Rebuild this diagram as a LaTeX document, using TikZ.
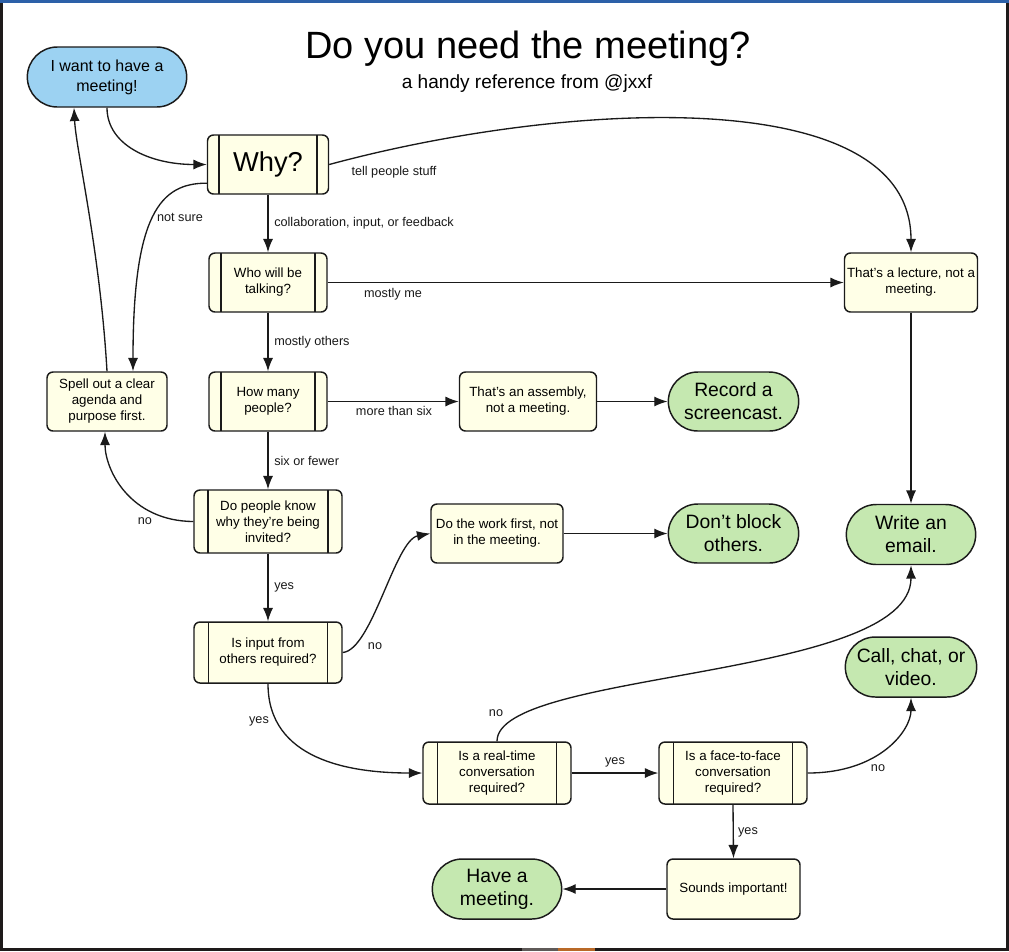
\documentclass[tikz,border=0pt]{standalone}
\usepackage{fontspec}
\setmainfont{Liberation Sans}
\usetikzlibrary{arrows.meta,shapes.misc}
\definecolor{cream}{RGB}{255,255,231}
\definecolor{pgreen}{RGB}{197,232,176}
\definecolor{pblue}{RGB}{156,210,242}
\definecolor{ln}{RGB}{26,26,26}
\definecolor{topblue}{RGB}{44,96,168}
\definecolor{framec}{RGB}{30,26,26}
\definecolor{artgray}{RGB}{95,90,88}
\definecolor{artorange}{RGB}{185,105,40}
\tikzset{
  box/.style={draw=ln, line width=1.1pt, fill=cream, rounded corners=4.5pt,
    align=center, inner sep=1pt, font=\fontsize{10}{12}\selectfont},
  proc/.style={box, path picture={
      \draw[line width=1.1pt, draw=ln]
        ([xshift=#1]path picture bounding box.north west) --
        ([xshift=#1]path picture bounding box.south west);
      \draw[line width=1.1pt, draw=ln]
        ([xshift=-#1]path picture bounding box.north east) --
        ([xshift=-#1]path picture bounding box.south east);}},
  proc/.default=10.5pt,
  pill/.style={rounded rectangle, draw=ln, line width=1.1pt, fill=pgreen,
    align=center, inner sep=1pt, font=\fontsize{14.5}{17.25}\selectfont},
  edge/.style={draw=ln, line width=1pt, -{Latex[length=10pt,width=7.5pt]}},
  lbl/.style={font=\fontsize{9.5}{11}\selectfont, inner sep=0pt, text=ln}
}
\begin{document}
\begin{tikzpicture}[x=0.75pt,y=-0.75pt]
\useasboundingbox (0,0) rectangle (1009,951);
% frame
\fill[white] (0,0) rectangle (1009,951);
\fill[topblue] (0,0) rectangle (1009,2.5);
\fill[framec] (0,2.5) rectangle (2.5,951);
\fill[framec] (1006,2.5) rectangle (1009,951);
\fill[framec] (0,948) rectangle (1009,951);
\fill[artgray] (522,948) rectangle (558,951);
\fill[artorange] (558,948) rectangle (595,951);

% title
\node[font=\fontsize{28.5}{32}\selectfont, text=black] (title) at (528,48.5) {Do you need the meeting?};
\node[font=\fontsize{14.3}{17}\selectfont, text=black] (sub) at (527,84) {a handy reference from @jxxf};

% nodes
\node[pill, fill=pblue, minimum width=121.5pt, minimum height=45pt,
      font=\fontsize{12}{15}\selectfont] (start) at (107,77) {I want to have a\\meeting!};
\node[proc=8.5pt, minimum width=90.75pt, minimum height=44.25pt,
      font=\fontsize{20.5}{24}\selectfont] (why) at (268,164.5) {Why?};
\node[proc=9pt, minimum width=88.5pt, minimum height=44.25pt] (who) at (268,282.5) {Who will be\\talking?};
\node[proc=9pt, minimum width=88.5pt, minimum height=44.25pt] (how) at (268,401.5) {How many\\people?};
\node[box, minimum width=102.75pt, minimum height=44.25pt] (assembly) at (528,401.5) {That's an assembly,\\not a meeting.};
\node[pill, minimum width=99.75pt, minimum height=44.25pt] (record) at (733.5,401.5) {Record a\\screencast.};
\node[box, minimum width=99.75pt, minimum height=44.25pt] (lecture) at (911,282.5) {That's a lecture, not a\\meeting.};
\node[box, minimum width=90pt, minimum height=44.25pt] (spell) at (107,401.5) {Spell out a clear\\agenda and\\purpose first.};
\node[proc=10.5pt, minimum width=111pt, minimum height=47.25pt] (dopeople) at (268,521.5) {Do people know\\why they're being\\invited?};
\node[proc=11pt, minimum width=111pt, minimum height=45.75pt] (input) at (268,652.5) {Is input from\\others required?};
\node[box, minimum width=99pt, minimum height=44.25pt] (dowork) at (497,533.5) {Do the work first, not\\in the meeting.};
\node[pill, minimum width=99.75pt, minimum height=44.25pt] (dontblock) at (733.5,533.5) {Don't block\\others.};
\node[pill, minimum width=99pt, minimum height=45pt] (email) at (911,534.5) {Write an\\email.};
\node[pill, minimum width=100.5pt, minimum height=45pt] (call) at (911,667) {Call, chat, or\\video.};
\node[proc=11pt, minimum width=111pt, minimum height=46.5pt] (realtime) at (497,773) {Is a real-time\\conversation\\required?};
\node[proc=11pt, minimum width=111pt, minimum height=46.5pt] (face) at (733,773) {Is a face-to-face\\conversation\\required?};
\node[box, minimum width=99.75pt, minimum height=45pt] (sounds) at (733.5,889) {Sounds important!};
\node[pill, minimum width=99pt, minimum height=45pt] (have) at (497,889) {Have a\\meeting.};

% connectors
\draw[edge] (start.south) .. controls (107,145) and (150,164.5) .. (why.west);
\draw[edge] (why.east) .. controls (560,102) and (911,80) .. (lecture.north);
\draw[edge] ([yshift=-14pt]why.west) .. controls (160,183) and (133,215) .. ([xshift=19.5pt]spell.north);
\draw[edge] (why.south) -- (who.north);
\draw[edge] (who.east) -- (lecture.west);
\draw[edge] (who.south) -- (how.north);
\draw[edge] (how.east) -- (assembly.west);
\draw[edge] (assembly.east) -- (record.west);
\draw[edge] (how.south) -- (dopeople.north);
\draw[edge] (dopeople.west) .. controls (130,521) and (105,470) .. ([xshift=-1.5pt]spell.south);
\draw[edge] (spell.north) .. controls (100,250) and (76,150) .. ([xshift=-24.75pt]start.south);
\draw[edge] (dopeople.south) -- (input.north);
\draw[edge] (input.east) .. controls (372,650) and (395,540) .. (dowork.west);
\draw[edge] (dowork.east) -- (dontblock.west);
\draw[edge] (input.south) .. controls (268,760) and (350,773) .. (realtime.west);
\draw[edge] (realtime.north) .. controls (497,670) and (911,680) .. (email.south);
\draw[edge] (realtime.east) -- (face.west);
\draw[edge] (face.east) .. controls (880,773) and (911,730) .. (call.south);
\draw[edge] (face.south) -- (sounds.north);
\draw[edge] (sounds.west) -- (have.east);
\draw[edge] (lecture.south) -- (email.north);

% labels
\node[lbl] (l1) at (394,172) {tell people stuff};
\node[lbl] (l2) at (180,217) {not sure};
\node[lbl, anchor=west] (l3) at (274,223) {collaboration, input, or feedback};
\node[lbl] (l4) at (393,294) {mostly me};
\node[lbl, anchor=west] (l5) at (274,342) {mostly others};
\node[lbl] (l6) at (394,411) {more than six};
\node[lbl, anchor=west] (l7) at (274,461) {six or fewer};
\node[lbl] (l8) at (145,521) {no};
\node[lbl, anchor=west] (l9) at (274,587) {yes};
\node[lbl] (l10) at (375,646) {no};
\node[lbl] (l11) at (259,721) {yes};
\node[lbl] (l12) at (496,713) {no};
\node[lbl] (l13) at (615,762) {yes};
\node[lbl] (l14) at (878,768) {no};
\node[lbl] (l15) at (748,832) {yes};
\end{tikzpicture}
\end{document}
